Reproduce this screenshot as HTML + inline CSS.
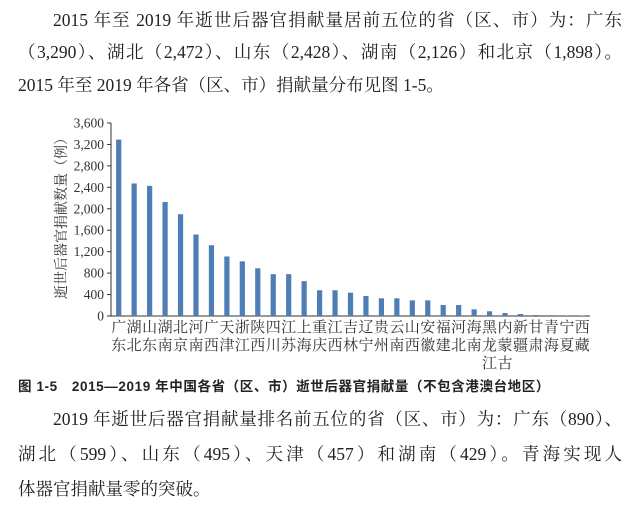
<!DOCTYPE html>
<html><head><meta charset="utf-8"><style>
body{margin:0;width:642px;height:520px;background:#fff;font-family:"Liberation Serif","Noto Serif CJK SC",serif;color:#222;position:relative;overflow:hidden}
.l{position:absolute;left:18px;width:604px;font-size:17.5px;line-height:24px;white-space:nowrap;margin:0}
.j{text-align:justify;text-align-last:justify;white-space:normal}
.ind{left:53px;width:569px}
.cap{position:absolute;left:18px;top:375px;font-family:"Liberation Sans","Noto Sans CJK SC",sans-serif;font-weight:bold;font-size:13.5px;letter-spacing:0.6px}
svg{position:absolute;left:0;top:0}
</style></head><body>
<div>
<div class="l j ind" style="top:8px">2015 年至 2019 年逝世后器官捐献量居前五位的省（区、市）为：广东</div>
<div class="l j" style="top:40px">（3,290）、湖北（2,472）、山东（2,428）、湖南（2,126）和北京（1,898）。</div>
<div class="l" style="top:73px">2015 年至 2019 年各省（区、市）捐献量分布见图 1-5。</div>
</div>
<svg id="chart" width="642" height="520"></svg>
<div class="cap">图 1-5　2015—2019 年中国各省（区、市）逝世后器官捐献量（不包含港澳台地区）</div>
<div>
<div class="l j ind" style="top:407px">2019 年逝世后器官捐献量排名前五位的省（区、市）为：广东（890）、</div>
<div class="l j" style="top:442px">湖北（599）、山东（495）、天津（457）和湖南（429）。青海实现人</div>
<div class="l" style="top:477px">体器官捐献量零的突破。</div>
</div>
<script>
const categories=["广东","湖北","山东","湖南","北京","河南","广西","天津","浙江","陕西","四川","江苏","上海","重庆","江西","吉林","辽宁","贵州","云南","山西","安徽","福建","河北","海南","黑龙江","内蒙古","新疆","甘肃","青海","宁夏","西藏"];
const values=[3290,2472,2428,2126,1898,1520,1320,1110,1020,890,780,780,650,480,480,435,373,330,330,292,292,205,205,125,88,56,37,19,15,12,8];
const yTicks=[0,400,800,1200,1600,2000,2400,2800,3200,3600];
const yTickLabels=["0","400","800","1,200","1,600","2,000","2,400","2,800","3,200","3,600"];
const NS="http://www.w3.org/2000/svg",svg=document.getElementById("chart");
const x0=111,x1=590,y0=316,yTop=123,yMax=3600;
const step=(x1-x0)/categories.length;
const y=v=>y0-(v/yMax)*(y0-yTop);
const xc=i=>x0+step*(i+0.5);
function mk(t,a){const e=document.createElementNS(NS,t);for(const k in a)e.setAttribute(k,a[k]);svg.appendChild(e);return e;}
let ax=mk("line",{x1:x0,y1:yTop,x2:x0,y2:y0,stroke:"#333","stroke-width":1});


let bx=mk("line",{x1:x0,y1:y0,x2:x1,y2:y0,stroke:"#333","stroke-width":1});


yTicks.forEach((v,i)=>{
  let t=mk("line",{x1:x0-4,y1:y(v),x2:x0,y2:y(v),stroke:"#333"});
  
  
  let l=mk("text",{x:x0-7,y:y(v)+4.5,"text-anchor":"end","font-size":"13.5","fill":"#333"});
  l.textContent=yTickLabels[i];
  
  
});
let yt=mk("text",{x:0,y:0,"font-size":"14","fill":"#333","text-anchor":"middle",transform:"translate(66,215) rotate(-90)"});
yt.textContent="逝世后器官捐献数量（例）";


categories.forEach((c,i)=>{
  let b=mk("rect",{x:xc(i)-2.6,y:y(values[i]),width:5.2,height:y0-y(values[i]),fill:"#4f7db5"});
  
  
  [...c].forEach((ch,j)=>{
    let t=mk("text",{x:xc(i),y:332+j*18,"text-anchor":"middle","font-size":"15","fill":"#333"});
    t.textContent=ch;
    
    
  });
});
</script>
</body></html>
